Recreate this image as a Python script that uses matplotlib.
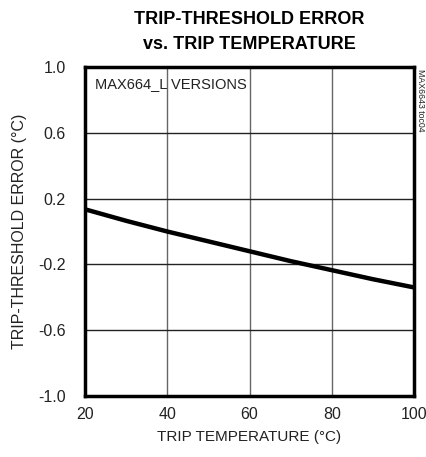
import matplotlib.pyplot as plt
from matplotlib import font_manager

temp_c = [20, 30, 40, 50, 60, 70, 80, 90, 100]
error_c = [0.135, 0.065, 0.0, -0.06, -0.12, -0.18, -0.235, -0.29, -0.34]
x_ticks = [20, 40, 60, 80, 100]
y_ticks = [1.0, 0.6, 0.2, -0.2, -0.6, -1.0]
y_tick_labels = ["1.0", "0.6", "0.2", "-0.2", "-0.6", "-1.0"]

names = {f.name for f in font_manager.fontManager.ttflist}
narrow = "Liberation Sans Narrow" if "Liberation Sans Narrow" in names else "Liberation Sans"
plt.rcParams['font.family'] = [narrow, 'DejaVu Sans']

fig = plt.figure(figsize=(4.27, 4.57), dpi=100)
ax = fig.add_axes([85 / 427, 1 - 396 / 457, 329 / 427, 329 / 457])

ax.plot(temp_c, error_c, color="black", lw=3.2, solid_capstyle="butt")
ax.set_xlim(20, 100)
ax.set_ylim(-1.0, 1.0)
ax.set_xticks(x_ticks)
ax.set_yticks(y_ticks)
ax.set_yticklabels(y_tick_labels)
ax.tick_params(length=0, labelsize=11.5, colors="#222222")
ax.tick_params(axis="y", pad=14)
ax.tick_params(axis="x", pad=8)

for x in x_ticks[1:-1]:
    ax.axvline(x, color="#666666", lw=1.0, zorder=0)
for y in y_ticks[1:-1]:
    ax.axhline(y, color="#222222", lw=1.0, zorder=0)
for s in ax.spines.values():
    s.set_linewidth(2.5)

ax.set_xlabel("TRIP TEMPERATURE (°C)", fontsize=11, color="#222222")
ax.set_ylabel("TRIP-THRESHOLD ERROR (°C)", fontsize=11.5, color="#222222")
ax.xaxis.label.set_va("center")
ax.yaxis.label.set_va("center")
ax.xaxis.set_label_coords(0.5, (396 - 437) / 329)
ax.yaxis.set_label_coords((20 - 85) / 329, 0.5)
ax.text(0.03, 0.97, "MAX664_L VERSIONS", transform=ax.transAxes,
        ha="left", va="top", fontsize=10.5, color="#222222")
fig.text(421 / 427, 1 - 100 / 457, "MAX6643 toc04", rotation=270,
         ha="center", va="center", fontsize=6.3, color="#222222")
fig.text(249 / 427, 1 - 32 / 457, "TRIP-THRESHOLD ERROR\nvs. TRIP TEMPERATURE",
         ha="center", va="center", fontsize=13, fontweight="bold",
         linespacing=1.6)

fig.savefig("out.png", dpi=100)
